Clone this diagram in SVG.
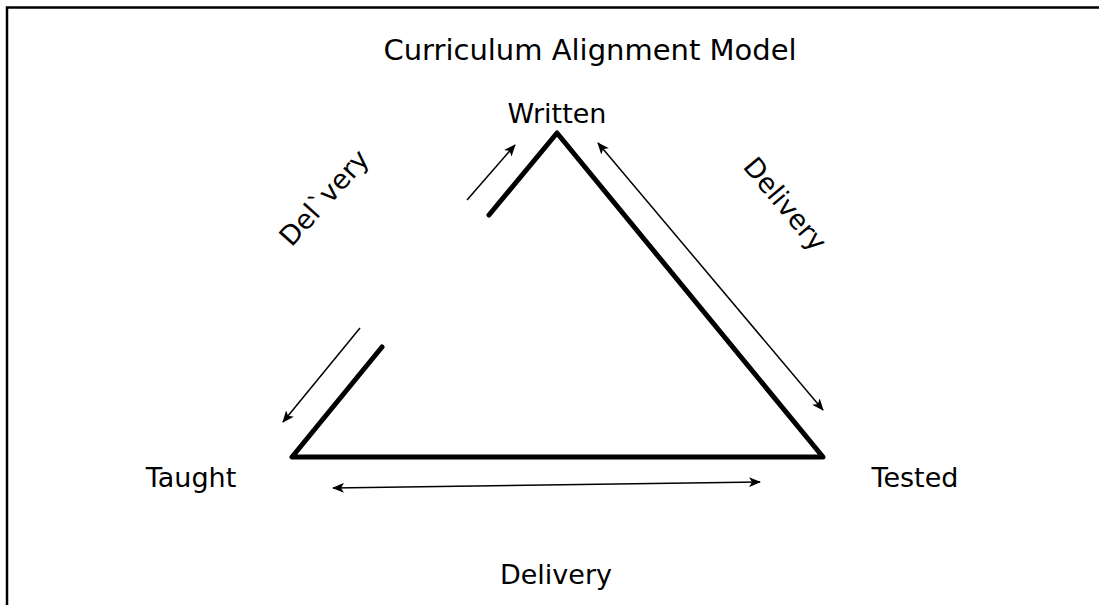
<svg xmlns="http://www.w3.org/2000/svg" width="1099" height="605" viewBox="0 0 1099 605">
<defs>
<marker id="ah" viewBox="0 0 12 10" refX="11" refY="5" markerWidth="12" markerHeight="10" markerUnits="userSpaceOnUse" orient="auto-start-reverse">
<path d="M0,0 L12,5 L0,10 L3,5 Z" fill="#000"/>
</marker>
<style>
text{font-family:"DejaVu Sans","Verdana",sans-serif;fill:#000}
.lbl{font-size:27px;text-anchor:middle}
.tri{stroke:#000;stroke-width:5;fill:none;stroke-linecap:round;stroke-linejoin:round}
.arr{stroke:#000;stroke-width:1.5;fill:none}
</style>
</defs>
<rect x="0" y="0" width="1099" height="605" fill="#fff"/>
<path d="M7,605 L7,7.5 L1099,7.5" stroke="#000" stroke-width="2.5" fill="none"/>
<text x="590" y="60" style="font-size:29px;text-anchor:middle">Curriculum Alignment Model</text>
<g id="connectors">
<path class="tri" d="M382,347 L292,457 L823,457 L557,133 L489,215"/>
<line class="arr" x1="467" y1="200" x2="515" y2="145" marker-end="url(#ah)"/>
<line class="arr" x1="360" y1="328" x2="283" y2="422" marker-end="url(#ah)"/>
<line class="arr" x1="598" y1="143" x2="823" y2="410" marker-start="url(#ah)" marker-end="url(#ah)"/>
<line class="arr" x1="333" y1="488" x2="760" y2="482" marker-start="url(#ah)" marker-end="url(#ah)"/>
</g>
<g id="written"><text class="lbl" x="557" y="123">Written</text></g>
<g id="taught"><text class="lbl" x="191" y="487">Taught</text></g>
<g id="tested"><text class="lbl" x="915" y="487">Tested</text></g>
<g id="delivery-bottom"><text class="lbl" x="556" y="584">Delivery</text></g>
<g id="delivery-left"><text class="lbl" transform="translate(331,204) rotate(-48)">Del`very</text></g>
<g id="delivery-right"><text class="lbl" transform="translate(778,210) rotate(50)">Delivery</text></g>
</svg>
